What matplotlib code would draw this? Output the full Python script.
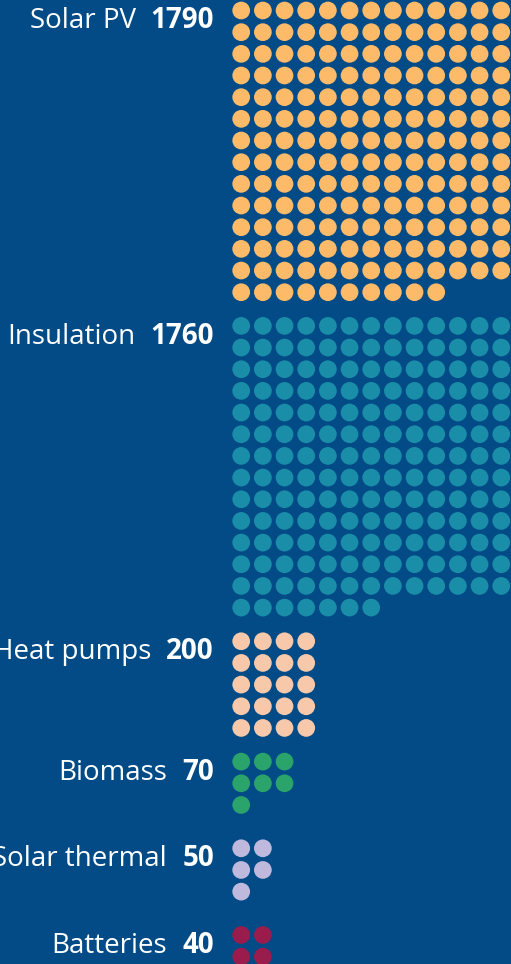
import math
import matplotlib.pyplot as plt
from matplotlib.patches import Circle

categories = ['Solar PV', 'Insulation', 'Heat pumps', 'Biomass', 'Solar thermal', 'Batteries']
values = [1790, 1760, 200, 70, 50, 40]
colors = ['#FDBA68', '#1A8EA8', '#F8C8AA', '#2AA46A', '#BFBADD', '#9A1C4C']
unit = 10  # one dot = 10

bg = '#024B86'
W, H = 511, 964
sp = 21.67       # dot pitch in px
r = 8.85         # dot radius in px
x0 = 241.2
y_start = 10.5

fig = plt.figure(figsize=(W / 100, H / 100), dpi=100)
fig.patch.set_facecolor(bg)
ax = fig.add_axes([0, 0, 1, 1])
ax.set_facecolor(bg)
ax.set_xlim(0, W)
ax.set_ylim(H, 0)
ax.axis('off')

y = y_start
num_texts = []
for cat, val, col in zip(categories, values, colors):
    n = val // unit
    ncols = round(math.sqrt(n))
    nrows = math.ceil(n / ncols)
    for i in range(n):
        cx = x0 + (i % ncols) * sp
        cy = y + (i // ncols) * sp
        ax.add_patch(Circle((cx, cy), r, color=col, lw=0))
    t = ax.text(214, y + 18, str(val), ha='right', va='baseline', color='white',
                fontsize=20, fontweight='bold', family='Open Sans')
    num_texts.append((t, cat, y))
    y += max(nrows * sp + 12, 4 * sp)

fig.canvas.draw()
renderer = fig.canvas.get_renderer()
inv = ax.transData.inverted()
for t, cat, yy in num_texts:
    bb = t.get_window_extent(renderer)
    left = inv.transform((bb.x0, bb.y0))[0]
    ax.text(left - 15, yy + 18, cat, ha='right', va='baseline', color='white',
            fontsize=20, family='Open Sans')

fig.savefig('out.png', dpi=100, facecolor=bg)
